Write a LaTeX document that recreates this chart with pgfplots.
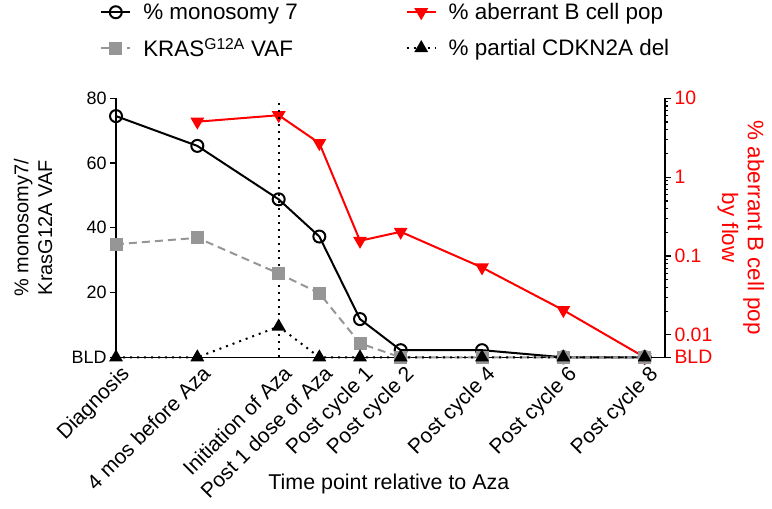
\documentclass[border=0pt]{standalone}
\usepackage{pgfplots}
\pgfplotsset{compat=1.18}
\usepackage{fontspec}
\setmainfont{Liberation Sans}
\definecolor{kgray}{RGB}{150,150,150}
\definecolor{bred}{RGB}{255,0,0}
\newcommand\fs{\fontsize{21}{24}\selectfont}
\newcommand\fsl{\fontsize{18}{21}\selectfont}
\newcommand\fsr{\fontsize{19.5}{22}\selectfont}
\newcommand\fsleg{\fontsize{22.5}{26}\selectfont}
\newcommand\fsyl{\fontsize{20}{24}\selectfont}
\newcommand\fsyr{\fontsize{22.5}{26}\selectfont}
\newcommand\fsxl{\fontsize{21.5}{25}\selectfont}
\begin{document}
\begin{tikzpicture}[x=1bp,y=1bp]
\useasboundingbox (0,0) rectangle (772,509);
% right axis (log) with red series
\begin{axis}[
  at={(116bp,151.7bp)}, anchor=south west,
  scale only axis, width=549bp, height=259bp,
  clip=false,
  xmin=0, xmax=13.5,
  ymode=log, ymin=0.0052, ymax=10,
  axis x line=none, axis y line*=right,
  axis line style={line width=1.5bp,-},
  ytick={0.01,0.1,1,10}, yticklabels={0.01,0.1,1,10},
  extra y ticks={0.0052}, extra y tick labels={BLD},
  yticklabel style={font=\fsr, text=bred},
  tick align=outside, major tick length=6bp, minor tick length=3bp,
  every tick/.style={black, line width=1.2bp},
  ylabel={\% aberrant B cell pop\\by flow},
  ylabel style={align=center, font=\fsyr, text=bred, rotate=180, anchor=center,
    at={(axis description cs:1.138,0.5)}},
]
\addplot[bred, line width=2bp, mark=triangle*, mark size=6bp, mark options={rotate=180, solid}]
 coordinates {(2,5.05)(4,6.1)(5,2.7)(6,0.156)(7,0.203)(9,0.0716)(11,0.0206)(13,0.0052)};
\end{axis}
% left axis
\begin{axis}[
  at={(116bp,151.7bp)}, anchor=south west,
  scale only axis, width=549bp, height=259bp,
  clip=false,
  xmin=0, xmax=13.5, ymin=0, ymax=80,
  axis x line*=bottom, axis y line*=left,
  axis line style={line width=1.5bp,-},
  xtick={0,2,4,5,6,7,9,11,13},
  xticklabels={Diagnosis, 4 mos before Aza, Initiation of Aza, Post 1 dose of Aza, Post cycle 1, Post cycle 2, Post cycle 4, Post cycle 6, Post cycle 8},
  xtick style={draw=none},
  xticklabel style={xshift=3.5bp, yshift=-1bp, rotate=45, anchor=north east, font=\fs, inner sep=0pt},
  ytick={0,20,40,60,80}, yticklabels={BLD,20,40,60,80},
  yticklabel style={font=\fsl},
  tick align=outside, major tick length=6bp,
  ytick style={black, line width=1.2bp},
  ylabel={\% monosomy7/\\KrasG12A VAF},
  ylabel style={align=center, font=\fsyl, anchor=center, at={(axis description cs:-0.151,0.5)}},
  xlabel={Time point relative to Aza},
  xlabel style={font=\fsxl, anchor=center, at={(axis description cs:0.497,-0.489)}},
  legend columns=2,
  legend cell align=left,
  legend style={at={(axis description cs:-0.029,1.375)}, anchor=north west, draw=none, fill=none,
    font=\fsleg, inner sep=0pt, row sep=13bp,
    /tikz/every odd column/.append style={column sep=10bp},
    /tikz/every even column/.append style={column sep=106bp}},
  legend image code/.code={\draw[mark repeat=2,mark phase=2] plot coordinates {(0bp,0bp) (14.5bp,0bp) (29bp,0bp)};},
]
\addplot[black, line width=2bp, mark=o, mark size=6bp, mark options={solid, line width=2bp}]
 coordinates {(0,74.5)(2,65.3)(4,48.8)(5,37.3)(6,11.8)(7,2.2)(9,2.2)(11,0)(13,0)};
\addlegendentry{\% monosomy 7}
\addlegendimage{bred, line width=2bp, mark=triangle*, mark size=6bp, mark options={rotate=180, solid}}
\addlegendentry{\% aberrant B cell pop}
\addplot[kgray, line width=2bp, dash pattern=on 8bp off 5bp, mark=square*, mark size=5.5bp, mark options={solid}]
 coordinates {(0,34.9)(2,36.9)(4,25.9)(5,19.8)(6,4.3)(7,0)(9,0)(11,0)(13,0)};
\addlegendentry{KRAS\textsuperscript{G12A} VAF}
\addplot[black, line width=2bp, dash pattern=on 2bp off 5bp, mark=triangle*, mark size=6bp, mark options={solid}]
 coordinates {(0,0)(2,0)(4,9.5)(5,0)(6,0)(7,0)(9,0)(11,0)(13,0)};
\addlegendentry{\% partial CDKN2A del}
\addplot[black, line width=2bp, dash pattern=on 2bp off 5bp, forget plot] coordinates {(4,0)(4,80)};
\end{axis}
\end{tikzpicture}
\end{document}
